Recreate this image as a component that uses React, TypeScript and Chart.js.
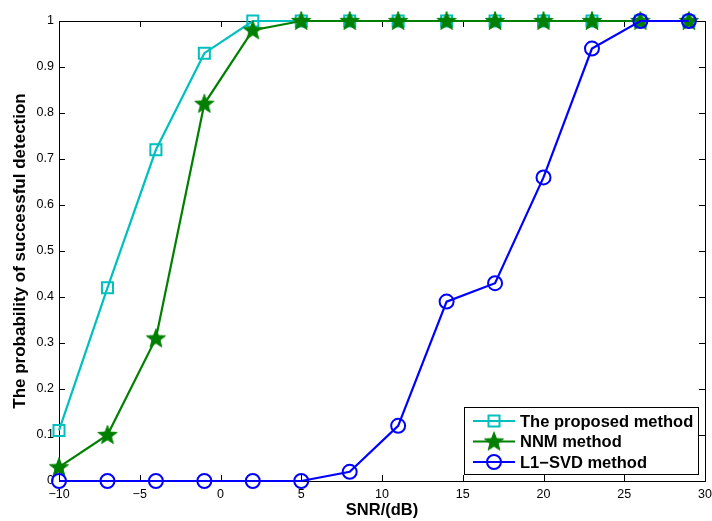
import React, { useEffect, useRef } from 'react';
import { Chart, registerables } from 'chart.js';
Chart.register(...registerables);

const snr = [-10, -7, -4, -1, 2, 5, 8, 11, 14, 17, 20, 23, 26, 29];
const proposed = [0.11, 0.42, 0.72, 0.93, 1, 1, 1, 1, 1, 1, 1, 1, 1, 1];
const nnm = [0.03, 0.1, 0.31, 0.82, 0.98, 1, 1, 1, 1, 1, 1, 1, 1, 1];
const l1svd = [0, 0, 0, 0, 0, 0, 0.02, 0.12, 0.39, 0.43, 0.66, 0.94, 1, 1];
const seriesNames = ['The proposed method', 'NNM method', 'L1\u2212SVD method'];
const xTitle = 'SNR/(dB)';
const yTitle = 'The probability of successful detection';

const CYAN = '#00BFBF';
const GREEN = '#008000';
const BLUE = '#0000FF';
const FONT = '"Liberation Sans", Arial, Helvetica, sans-serif';

function starPath(ctx: CanvasRenderingContext2D, cx: number, cy: number, ro: number, ri: number) {
  ctx.beginPath();
  for (let i = 0; i < 10; i++) {
    const r = i % 2 === 0 ? ro : ri;
    const a = -Math.PI / 2 + (i * Math.PI) / 5;
    const px = cx + r * Math.cos(a);
    const py = cy + r * Math.sin(a);
    if (i === 0) ctx.moveTo(px, py);
    else ctx.lineTo(px, py);
  }
  ctx.closePath();
}

function makeStar(): HTMLCanvasElement {
  const c = document.createElement('canvas');
  c.width = 24;
  c.height = 24;
  const ctx = c.getContext('2d')!;
  starPath(ctx, 12, 12.5, 10, 4.2);
  ctx.fillStyle = GREEN;
  ctx.fill();
  ctx.strokeStyle = GREEN;
  ctx.lineWidth = 1;
  ctx.stroke();
  return c;
}

function drawMarker(ctx: CanvasRenderingContext2D, kind: number, x: number, y: number, star: HTMLCanvasElement) {
  ctx.save();
  ctx.lineWidth = 2;
  if (kind === 0) {
    ctx.strokeStyle = CYAN;
    ctx.strokeRect(x - 5.5, y - 5.5, 11, 11);
  } else if (kind === 1) {
    ctx.drawImage(star, x - 12, y - 12);
  } else {
    ctx.strokeStyle = BLUE;
    ctx.beginPath();
    ctx.arc(x, y, 7, 0, Math.PI * 2);
    ctx.stroke();
  }
  ctx.restore();
}

export default function App() {
  const ref = useRef<HTMLCanvasElement | null>(null);
  useEffect(() => {
    const star = makeStar();
    const frame = {
      id: 'matlabFrame',
      beforeDatasetsDraw(chart: any) {
        const { ctx, chartArea: a, scales } = chart;
        ctx.save();
        ctx.strokeStyle = '#000';
        ctx.lineWidth = 1;
        ctx.strokeRect(Math.round(a.left) + 0.5, Math.round(a.top) + 0.5, Math.round(a.right - a.left), Math.round(a.bottom - a.top));
        ctx.beginPath();
        scales.x.ticks.forEach((t: any) => {
          const px = Math.round(scales.x.getPixelForValue(t.value)) + 0.5;
          ctx.moveTo(px, a.bottom);
          ctx.lineTo(px, a.bottom - 6);
          ctx.moveTo(px, a.top);
          ctx.lineTo(px, a.top + 6);
        });
        scales.y.ticks.forEach((t: any) => {
          const py = Math.round(scales.y.getPixelForValue(t.value)) + 0.5;
          ctx.moveTo(a.left, py);
          ctx.lineTo(a.left + 6, py);
          ctx.moveTo(a.right, py);
          ctx.lineTo(a.right - 6, py);
        });
        ctx.stroke();
        ctx.restore();
      },
      afterDraw(chart: any) {
        const { ctx, chartArea: a } = chart;
        const bx = a.right - 241;
        const by = a.bottom - 74;
        const bw = 234;
        const bh = 67;
        ctx.save();
        ctx.fillStyle = '#fff';
        ctx.fillRect(bx, by, bw, bh);
        ctx.strokeStyle = '#000';
        ctx.lineWidth = 1;
        ctx.strokeRect(bx + 0.5, by + 0.5, bw, bh);
        const colors = [CYAN, GREEN, BLUE];
        ctx.font = `bold 16.5px ${FONT}`;
        ctx.textBaseline = 'middle';
        ctx.fillStyle = '#000';
        seriesNames.forEach((name, i) => {
          const y = by + 14 + i * 20.5;
          ctx.strokeStyle = colors[i];
          ctx.lineWidth = 2;
          ctx.beginPath();
          ctx.moveTo(bx + 9, y);
          ctx.lineTo(bx + 51, y);
          ctx.stroke();
          drawMarker(ctx, i, bx + 30, y, star);
          ctx.fillStyle = '#000';
          ctx.fillText(name, bx + 56, y + 1);
        });
        ctx.restore();
      },
    };

    const ds = (label: string, data: number[], color: string, style: any, radius: number, order: number) => ({
      label,
      data: snr.map((x, i) => ({ x, y: data[i] })),
      borderColor: color,
      backgroundColor: color,
      borderWidth: 2.2,
      pointStyle: style,
      pointRadius: radius,
      pointHoverRadius: radius,
      pointBorderWidth: 2,
      pointBorderColor: color,
      pointBackgroundColor: style === star ? color : 'rgba(0,0,0,0)',
      tension: 0,
      clip: false as any,
      order,
    });

    const chart = new Chart(ref.current!, {
      type: 'line',
      data: {
        datasets: [
          ds(seriesNames[0], proposed, CYAN, 'rect', 7.8, 3),
          ds(seriesNames[1], nnm, GREEN, star, 10, 2),
          ds(seriesNames[2], l1svd, BLUE, 'circle', 7, 1),
        ],
      },
      options: {
        responsive: false,
        animation: false,
        devicePixelRatio: 1,
        layout: { autoPadding: false, padding: { left: 0, right: 7, top: 21, bottom: 0 } },
        plugins: { legend: { display: false }, tooltip: { enabled: false } },
        scales: {
          x: {
            type: 'linear',
            min: -10,
            max: 30,
            grid: { display: false, drawTicks: false },
            border: { display: false },
            ticks: {
              stepSize: 5,
              padding: 6,
              color: '#000',
              font: { family: FONT, size: 12.5 },
              callback: (v: any) => String(v).replace('-', '\u2212'),
              maxRotation: 0,
            },
            title: {
              display: true,
              text: xTitle,
              color: '#000',
              font: { family: FONT, size: 16.5, weight: 'bold' },
              padding: { top: 0, bottom: 1 },
            },
            afterFit: (s: any) => {
              s.height = 40;
              s.paddingLeft = 0;
              s.paddingRight = 0;
            },
          },
          y: {
            type: 'linear',
            min: 0,
            max: 1,
            grid: { display: false, drawTicks: false },
            border: { display: false },
            ticks: {
              stepSize: 0.1,
              padding: 5,
              color: '#000',
              font: { family: FONT, size: 12.5 },
              callback: (v: any) => String(Number(Number(v).toFixed(1))),
            },
            title: {
              display: true,
              text: yTitle,
              color: '#000',
              font: { family: FONT, size: 17, weight: 'bold' },
              padding: { top: 10, bottom: 0 },
            },
            afterFit: (s: any) => {
              s.width = 59;
              s.paddingTop = 0;
              s.paddingBottom = 0;
            },
          },
        },
      },
      plugins: [frame],
    });
    return () => chart.destroy();
  }, []);
  return (
    <div style={{ position: 'fixed', left: 0, top: 0, width: 712, height: 521, background: '#fff' }}>
      <canvas ref={ref} width={712} height={521} style={{ display: 'block' }} />
    </div>
  );
}
